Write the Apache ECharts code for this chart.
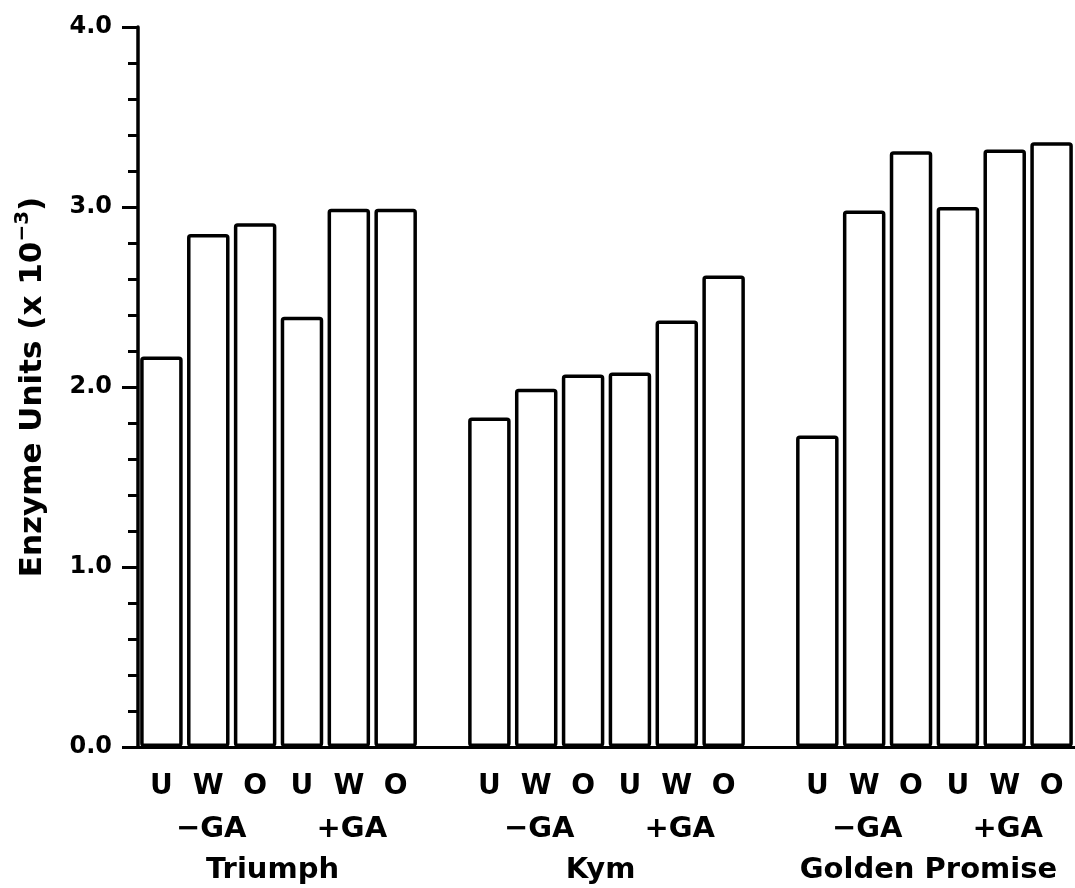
<!DOCTYPE html>
<html><head><meta charset="utf-8">
<script src="https://cdn.jsdelivr.net/npm/echarts@6/dist/echarts.min.js"></script>
<style>html,body{margin:0;padding:0;background:#fff}#c{width:1075px;height:888px}</style>
</head><body><div id="c"></div>
<script>
const cultivars = ['Triumph', 'Kym', 'Golden Promise'];
const treatments = ['−GA', '+GA'];
const tissues = ['U', 'W', 'O'];
const triumph = [2.17, 2.85, 2.91, 2.39, 2.99, 2.99];
const kym = [1.83, 1.99, 2.07, 2.08, 2.37, 2.62];
const goldenPromise = [1.73, 2.98, 3.31, 3.00, 3.32, 3.36];
const yTicks = ['0.0', '1.0', '2.0', '3.0', '4.0'];

const FONT = 'DejaVu Sans';
const groupValues = [triumph, kym, goldenPromise];
const categories = [], values = [], letters = [];
groupValues.forEach((vals, g) => {
  if (g > 0) { categories.push('gap' + g); values.push('-'); letters.push(''); }
  vals.forEach((v, i) => {
    categories.push(cultivars[g] + '|' + treatments[Math.floor(i / 3)] + '|' + tissues[i % 3]);
    values.push(v);
    letters.push(tissues[i % 3]);
  });
});

const chart = echarts.init(document.getElementById('c'), null, {renderer: 'canvas'});
chart.setOption({
  animation: false,
  backgroundColor: '#fff',
  grid: {left: 138, top: 27, width: 940, bottom: 141, containLabel: false},
  xAxis: {
    type: 'category',
    data: categories,
    axisLine: {lineStyle: {color: '#000', width: 3}},
    axisTick: {show: false},
    axisLabel: {
      interval: 0, margin: 26,
      formatter: (v, i) => letters[i],
      color: '#000', fontFamily: FONT, fontWeight: 'bold', fontSize: 28
    }
  },
  yAxis: {
    type: 'value', min: 0, max: 4, interval: 1,
    name: '{a|Enzyme Units (x 10}{s|−3}{a|)}',
    nameLocation: 'middle', nameRotate: 90, nameGap: 85,
    nameTextStyle: {
      rich: {
        a: {fontFamily: FONT, fontWeight: 'bold', fontSize: 31, color: '#000', lineHeight: 40},
        s: {fontFamily: FONT, fontWeight: 'bold', fontSize: 20, color: '#000', verticalAlign: 'top', lineHeight: 20}
      }
    },
    axisLine: {show: true, lineStyle: {color: '#000', width: 3.5}},
    axisTick: {show: true, length: 16, lineStyle: {color: '#000', width: 3}},
    minorTick: {show: true, splitNumber: 5, length: 10, lineStyle: {color: '#000', width: 3}},
    splitLine: {show: false},
    axisLabel: {
      margin: 26, color: '#000', fontFamily: FONT, fontWeight: 'bold', fontSize: 24,
      formatter: v => yTicks[Math.round(v)]
    }
  },
  series: [{
    type: 'bar',
    data: values,
    barWidth: 42.5,
    itemStyle: {color: '#fff', borderColor: '#000', borderWidth: 3.5, borderRadius: 2}
  }]
});

const yBase = chart.convertToPixel({yAxisIndex: 0}, 0);
const graphics = [];
const txt = (x, y, s) => graphics.push({
  type: 'text', x: x, y: y,
  style: {text: s, fontFamily: FONT, fontWeight: 'bold', fontSize: 29, fill: '#000', align: 'center', verticalAlign: 'middle'}
});
let idx = 0;
groupValues.forEach((vals, g) => {
  if (g > 0) idx++;
  const first = chart.convertToPixel({xAxisIndex: 0}, categories[idx]);
  const last = chart.convertToPixel({xAxisIndex: 0}, categories[idx + vals.length - 1]);
  treatments.forEach((t, k) => {
    const w = chart.convertToPixel({xAxisIndex: 0}, categories[idx + k * 3 + 1]);
    txt(w + 3, yBase + 82, t);
  });
  txt((first + last) / 2 - 6, yBase + 123, cultivars[g]);
  idx += vals.length;
});
chart.setOption({graphic: graphics});
</script></body></html>
